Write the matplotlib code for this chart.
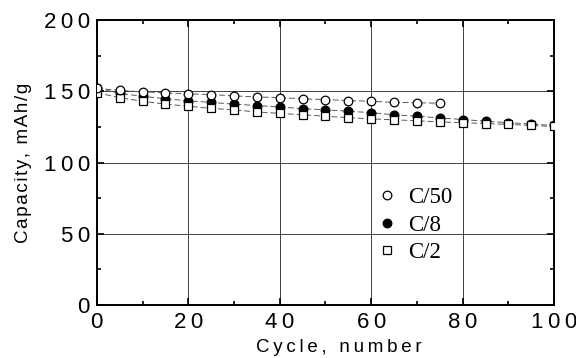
import matplotlib
matplotlib.use("Agg")
import matplotlib.pyplot as plt
from matplotlib.ticker import MultipleLocator, FuncFormatter
from matplotlib.lines import Line2D

# Data
cyc_c50 = [0, 5, 10, 15, 20, 25, 30, 35, 40, 45, 50, 55, 60, 65, 70, 75]
cap_c50 = [152, 150.7, 149.6, 148.9, 148.2, 147.7, 146.8, 146.0, 145.6, 144.7, 144.2, 143.5, 143.0, 142.2, 142.0, 141.6]

cyc_c8 = [0, 5, 10, 15, 20, 25, 30, 35, 40, 45, 50, 55, 60, 65, 70, 75, 80, 85, 90, 95, 100]
cap_c8 = [152.5, 148.5, 146.5, 144.8, 143.3, 142.2, 141.0, 140.0, 139.0, 137.8, 137.0, 136.0, 135.0, 133.5, 132.5, 131.3, 130.2, 129.0, 128.0, 127.0, 126.0]

cyc_c2 = [0, 5, 10, 15, 20, 25, 30, 35, 40, 45, 50, 55, 60, 65, 70, 75, 80, 85, 90, 95, 100]
cap_c2 = [149.0, 145.5, 143.0, 141.0, 139.5, 138.0, 137.0, 135.5, 134.5, 133.5, 132.5, 131.5, 130.6, 130.0, 129.3, 128.5, 128.0, 127.3, 126.8, 126.0, 125.3]

labels = ["C/50", "C/8", "C/2"]
xticks = [0, 20, 40, 60, 80, 100]
yticks = [0, 50, 100, 150, 200]
xlabel = "Cycle, number"
ylabel = "Capacity, mAh/g"

SANS = ["Liberation Sans", "DejaVu Sans"]

def spaced(s, sp):
    return sp.join(list(s))

fig = plt.figure(figsize=(5.76, 3.58), dpi=100)
ax = fig.add_axes([0.168, 0.148, 0.794, 0.796])

line_kw = dict(color="0.35", lw=0.7, ls=(0, (6, 3)))
ax.plot(cyc_c8, cap_c8, marker="o", ms=6.2, mfc="black", mec="black", zorder=3, label=labels[1], **line_kw)
ax.plot(cyc_c2, cap_c2, marker="s", ms=6.2, mfc="white", mec="black", mew=0.9, zorder=4, label=labels[2], **line_kw)
ax.plot(cyc_c50, cap_c50, marker="o", ms=6.2, mfc="white", mec="black", mew=0.9, zorder=5, label=labels[0], **line_kw)

ax.set_xlim(0, 100)
ax.set_ylim(0, 200)
ax.set_xticks(xticks)
ax.set_yticks(yticks)
ax.xaxis.set_minor_locator(MultipleLocator(10))
ax.yaxis.set_minor_locator(MultipleLocator(25))
fmt = FuncFormatter(lambda v, p: spaced(str(int(v)), "\u2009"))
ax.xaxis.set_major_formatter(fmt)
ax.yaxis.set_major_formatter(fmt)

ax.grid(True, which="major", color="0.25", lw=0.7)
ax.tick_params(which="both", direction="in", top=True, right=True, width=1.2)
ax.tick_params(which="major", length=5, labelsize=16)
ax.tick_params(axis="x", which="major", pad=5)
ax.tick_params(axis="y", which="major", pad=5)
ax.tick_params(which="minor", length=3)
for lab in ax.get_xticklabels() + ax.get_yticklabels():
    lab.set_family(SANS)
for sp in ax.spines.values():
    sp.set_linewidth(1.4)

ax.set_xlabel(spaced(xlabel, "\u2009"), fontsize=13.5, family=SANS)
ax.xaxis.set_label_coords(0.53, -0.12)
ax.xaxis.label.set_va("top")
ax.set_ylabel(spaced(ylabel, "\u200a"), fontsize=13.5, family=SANS, labelpad=8)

h, l = ax.get_legend_handles_labels()
order = [2, 0, 1]
handles = []
for i in order:
    hh = h[i]
    handles.append(Line2D([], [], ls="none", marker=hh.get_marker(), ms=6.2,
                          mfc=hh.get_markerfacecolor(), mec="black", mew=0.9))
leg = ax.legend(handles, [l[i] for i in order], loc="upper left", bbox_to_anchor=(0.595, 0.445),
                frameon=False, prop={"family": "Liberation Serif", "size": 16.5},
                handlelength=0.8, handletextpad=0.5, labelspacing=0.28, borderaxespad=0)

fig.savefig("out.png", dpi=100)
